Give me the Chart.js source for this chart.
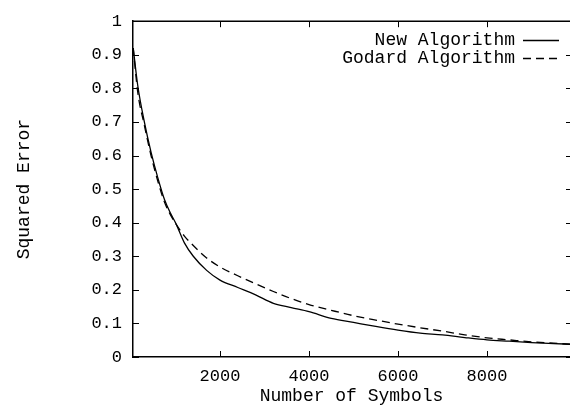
<!DOCTYPE html>
<html>
<head>
<meta charset="utf-8">
<script src="https://cdn.jsdelivr.net/npm/chart.js@4/dist/chart.umd.min.js"></script>
<style>
  body { margin: 0; background: #fff; overflow: hidden; }
  canvas { display: block; }
</style>
</head>
<body>
<canvas id="chart" width="570" height="405"></canvas>
<script>
// values
const symbols = [50, 150, 300, 450, 600, 750, 900, 1000, 1200, 1400, 1700, 2000, 2400, 2800, 3200, 3600, 4000, 4500, 5000, 5500, 6000, 6500, 7000, 7500, 8000, 8500, 9000, 9500, 9865];
const newError = [0.92, 0.81, 0.70, 0.61, 0.535, 0.47, 0.425, 0.40, 0.34, 0.30, 0.258, 0.229, 0.207, 0.185, 0.160, 0.147, 0.135, 0.115, 0.103, 0.091, 0.080, 0.071, 0.066, 0.058, 0.051, 0.047, 0.043, 0.040, 0.038];
const godardError = [0.92, 0.79, 0.69, 0.60, 0.525, 0.462, 0.42, 0.398, 0.36, 0.332, 0.295, 0.268, 0.242, 0.218, 0.195, 0.174, 0.156, 0.139, 0.123, 0.110, 0.098, 0.087, 0.077, 0.066, 0.057, 0.051, 0.045, 0.041, 0.038];
const seriesNames = ['New Algorithm', 'Godard Algorithm'];
const xTicks = [2000, 4000, 6000, 8000];

const FONT = 'Liberation Mono, Courier New, monospace';

const toPoints = ys => symbols.map((x, i) => ({ x: x, y: ys[i] }));

// inward tick marks on all four sides plus the top frame line
const frame = {
  id: 'frame',
  afterDraw(chart) {
    const { ctx, chartArea: a, scales: { x, y } } = chart;
    ctx.save();
    ctx.strokeStyle = '#000';
    ctx.lineWidth = 1.5;
    ctx.beginPath();
    ctx.moveTo(a.left, a.top);
    ctx.lineTo(a.right + 5, a.top);
    ctx.stroke();
    ctx.lineWidth = 1;
    ctx.beginPath();
    xTicks.forEach(v => {
      const px = Math.round(x.getPixelForValue(v)) + 0.5;
      ctx.moveTo(px, a.bottom); ctx.lineTo(px, a.bottom - 6);
      ctx.moveTo(px, a.top); ctx.lineTo(px, a.top + 6);
    });
    y.ticks.forEach(t => {
      const py = Math.round(y.getPixelForValue(t.value)) + 0.5;
      ctx.moveTo(a.left, py); ctx.lineTo(a.left + 6, py);
      ctx.moveTo(a.right + 2, py); ctx.lineTo(a.right - 4, py);
    });
    ctx.stroke();
    ctx.restore();
  }
};

// gnuplot style key: text right aligned, line sample to its right
const key = {
  id: 'key',
  afterDraw(chart) {
    const ctx = chart.ctx;
    ctx.save();
    ctx.font = '18px ' + FONT;
    ctx.fillStyle = '#000';
    ctx.textAlign = 'right';
    ctx.textBaseline = 'middle';
    chart.data.datasets.forEach((ds, i) => {
      const yy = 40 + i * 18;
      ctx.fillText(ds.label, 515, yy);
      ctx.strokeStyle = ds.borderColor;
      ctx.lineWidth = ds.borderWidth;
      ctx.setLineDash(ds.borderDash || []);
      ctx.beginPath();
      ctx.moveTo(523, yy + 0.5);
      ctx.lineTo(559, yy + 0.5);
      ctx.stroke();
    });
    ctx.restore();
  }
};

new Chart(document.getElementById('chart'), {
  type: 'line',
  data: {
    datasets: [
      {
        label: seriesNames[0],
        data: toPoints(newError),
        borderColor: '#000',
        borderWidth: 1.3,
        pointRadius: 0,
        fill: false,
        cubicInterpolationMode: 'monotone'
      },
      {
        label: seriesNames[1],
        data: toPoints(godardError),
        borderColor: '#000',
        borderWidth: 1.3,
        borderDash: [8, 5],
        pointRadius: 0,
        fill: false,
        cubicInterpolationMode: 'monotone'
      }
    ]
  },
  options: {
    responsive: false,
    animation: false,
    layout: { padding: { top: 13, right: 0, left: 0, bottom: 0 } },
    plugins: {
      legend: { display: false },
      tooltip: { enabled: false }
    },
    scales: {
      x: {
        type: 'linear',
        min: 45,
        max: 9865,
        grid: { display: false, drawTicks: false },
        border: { display: true, color: '#000', width: 1.5 },
        afterBuildTicks: s => { s.ticks = xTicks.map(v => ({ value: v })); },
        afterFit: s => { s.height = 48; },
        ticks: {
          color: '#000',
          padding: 9,
          maxRotation: 0,
          callback: v => String(v),
          font: { family: FONT, size: 17 }
        },
        title: {
          display: true,
          text: 'Number of Symbols',
          color: '#000',
          padding: 0,
          font: { family: FONT, size: 18, lineHeight: 1 }
        }
      },
      y: {
        min: 0,
        max: 1,
        grid: { display: false, drawTicks: false },
        border: { display: true, color: '#000', width: 1.5 },
        afterFit: s => { s.width = 133; },
        ticks: {
          stepSize: 0.1,
          color: '#000',
          padding: 11,
          callback: v => String(Math.round(v * 10) / 10),
          font: { family: FONT, size: 17 }
        },
        title: {
          display: true,
          text: 'Squared Error',
          color: '#000',
          padding: { top: 15, bottom: 0 },
          font: { family: FONT, size: 18, lineHeight: 1 }
        }
      }
    }
  },
  plugins: [frame, key]
});
</script>
</body>
</html>
